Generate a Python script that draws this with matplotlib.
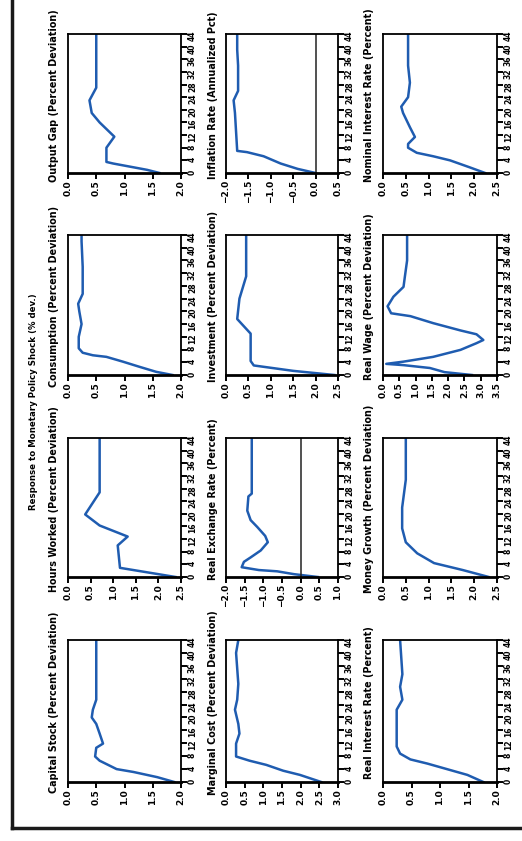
import matplotlib.pyplot as plt
from matplotlib.lines import Line2D
import numpy as np

plt.rcParams['font.family'] = ['DejaVu Sans']
plt.rcParams['font.weight'] = 'bold'

W, H = 522, 841

# time axis (quarters after the shock)
t_ticks = list(range(0, 45, 4))

# responses, one list per panel (time, value)
t_a = [0, 1, 2, 3, 3.5, 8, 11.5, 16, 19, 23, 27, 44]
v_a = [1.62, 1.40, 1.10, 0.80, 0.68, 0.68, 0.82, 0.56, 0.42, 0.38, 0.50, 0.50]

t_b = [0, 1.3, 3, 5.3, 6.6, 7, 19, 23, 26, 34, 39, 44]
v_b = [0.0, -0.40, -0.78, -1.16, -1.53, -1.75, -1.80, -1.83, -1.73, -1.73, -1.75, -1.75]

t_c = [0, 1.8, 4, 5.3, 6.4, 8, 9.2, 11.4, 14.5, 19, 21, 24, 28.6, 34, 44]
v_c = [2.24, 1.90, 1.47, 1.10, 0.74, 0.55, 0.55, 0.70, 0.59, 0.44, 0.40, 0.55, 0.59, 0.55, 0.55]

t_d = [0, 1, 2.6, 4.2, 5.7, 6.2, 7, 8.4, 12, 16, 20, 22.4, 25.5, 34, 42, 44]
v_d = [1.85, 1.56, 1.26, 0.97, 0.68, 0.44, 0.26, 0.19, 0.19, 0.24, 0.20, 0.18, 0.26, 0.26, 0.24, 0.24]

t_e = [0, 1.3, 3, 4.4, 13, 17.6, 24, 31, 44]
v_e = [2.42, 1.50, 0.62, 0.55, 0.55, 0.25, 0.30, 0.45, 0.45]

t_f = [0, 0.9, 2.2, 3.1, 3.5, 4.2, 5.7, 7.9, 10, 11, 12.8, 14, 16.3, 18.5, 19.4, 21.6, 24.6, 27.7, 30.8, 36, 44]
v_f = [2.73, 1.89, 1.44, 0.63, 0.10, 0.63, 1.54, 2.38, 2.87, 3.08, 2.87, 2.38, 1.54, 0.84, 0.25, 0.14, 0.32, 0.63, 0.67, 0.74, 0.74]

t_g = [0, 2.9, 10, 12.8, 16.3, 19.8, 26.8, 44]
v_g = [2.38, 1.15, 1.10, 1.32, 0.70, 0.38, 0.70, 0.70]

t_h = [0, 0.9, 1.8, 2.2, 3.1, 4.8, 6.2, 8.4, 11, 13, 15.8, 18, 21, 25.5, 26.4, 44]
v_h = [0.46, -0.18, -0.63, -1.12, -1.58, -1.52, -1.34, -1.07, -0.88, -0.95, -1.16, -1.34, -1.43, -1.40, -1.31, -1.31]

t_i = [0, 2.2, 4.4, 7.5, 11, 15.4, 22, 30.8, 44]
v_i = [2.32, 1.75, 1.12, 0.75, 0.50, 0.42, 0.42, 0.50, 0.50]

t_j = [0, 1.5, 3.1, 4, 6.6, 7.9, 10.6, 11.9, 15, 18, 20, 22.4, 25.5, 44]
v_j = [1.88, 1.58, 1.16, 0.86, 0.56, 0.48, 0.50, 0.62, 0.56, 0.50, 0.42, 0.44, 0.50, 0.50]

t_k = [0, 2.2, 3.5, 5.3, 6.6, 7.9, 11.9, 15, 18, 22.4, 25.5, 30.4, 40, 44]
v_k = [2.55, 1.98, 1.53, 1.08, 0.63, 0.27, 0.27, 0.36, 0.33, 0.24, 0.30, 0.33, 0.27, 0.33]

t_l = [0, 2.2, 4, 5.7, 7, 8.8, 11, 22.4, 25.5, 29.5, 33.4, 44]
v_l = [1.76, 1.48, 1.12, 0.78, 0.48, 0.30, 0.24, 0.24, 0.34, 0.30, 0.34, 0.30]

series = [(t_a, v_a), (t_b, v_b), (t_c, v_c),
          (t_d, v_d), (t_e, v_e), (t_f, v_f),
          (t_g, v_g), (t_h, v_h), (t_i, v_i),
          (t_j, v_j), (t_k, v_k), (t_l, v_l)]

# value axis ranges (low, high, step)
ranges = [(0, 2, 0.5), (-2, 0.5, 0.5), (0, 2.5, 0.5),
          (0, 2, 0.5), (0, 2.5, 0.5), (0, 3.5, 0.5),
          (0, 2.5, 0.5), (-2, 1, 0.5), (0, 2.5, 0.5),
          (0, 2, 0.5), (0, 3, 0.5), (0, 2, 0.5)]

titles = ["Output Gap (Percent Deviation)",
          "Inflation Rate (Annualized Pct)",
          "Nominal Interest Rate (Percent)",
          "Consumption (Percent Deviation)",
          "Investment (Percent Deviation)",
          "Real Wage (Percent Deviation)",
          "Hours Worked (Percent Deviation)",
          "Real Exchange Rate (Percent)",
          "Money Growth (Percent Deviation)",
          "Capital Stock (Percent Deviation)",
          "Marginal Cost (Percent Deviation)",
          "Real Interest Rate (Percent)"]

ylabel = "Response to Monetary Policy Shock (% dev.)"

# layout in pixels
cols = [(68, 181), (226, 338), (383, 497)]
rows = [(34, 173), (235, 375), (438, 577), (640, 782)]

fig = plt.figure(figsize=(W / 100, H / 100), dpi=100)

for k, ((t, v), (lo, hi, st), title) in enumerate(zip(series, ranges, titles)):
    r, c = divmod(k, 3)
    x0, x1 = cols[c]
    y0, y1 = rows[r]
    ax = fig.add_axes([x0 / W, 1 - y1 / H, (x1 - x0) / W, (y1 - y0) / H])
    ax.plot(v, t, color='#1f5cb0', lw=1.8)
    if lo < 0 < hi:
        ax.axvline(0, color='#222222', lw=1.1)
    ax.set_xlim(lo, hi)
    ax.set_ylim(0, 44)
    ax.set_xticks(np.arange(lo, hi + st / 2, st))
    ax.set_yticks(t_ticks)
    ax.yaxis.tick_right()
    ax.tick_params(axis='x', direction='out', length=4, width=1.4,
                   labelsize=6.5, labelrotation=90, pad=1)
    ax.tick_params(axis='y', direction='out', length=4, width=1.4,
                   labelsize=5.5, labelrotation=90, pad=1)
    for s in ax.spines.values():
        s.set_linewidth(1.3)
    ax.spines['bottom'].set_linewidth(2)
    ax.set_title(title, rotation=90, fontsize=6.9, fontweight='heavy',
                 x=-0.12, y=0.5, va='center', ha='center')

fig.text(34 / W, 1 - 402 / H, ylabel, rotation=90, fontsize=6.2, fontweight='heavy',
         ha='center', va='center')

# outer frame
fig.add_artist(Line2D([12 / W, 12 / W], [1, 1 - 828 / H], transform=fig.transFigure,
                      color='#1a1a1a', lw=2.5))
fig.add_artist(Line2D([12 / W, 1], [1 - 828 / H, 1 - 828 / H], transform=fig.transFigure,
                      color='#1a1a1a', lw=2.5))

fig.savefig('out.png', dpi=100)
